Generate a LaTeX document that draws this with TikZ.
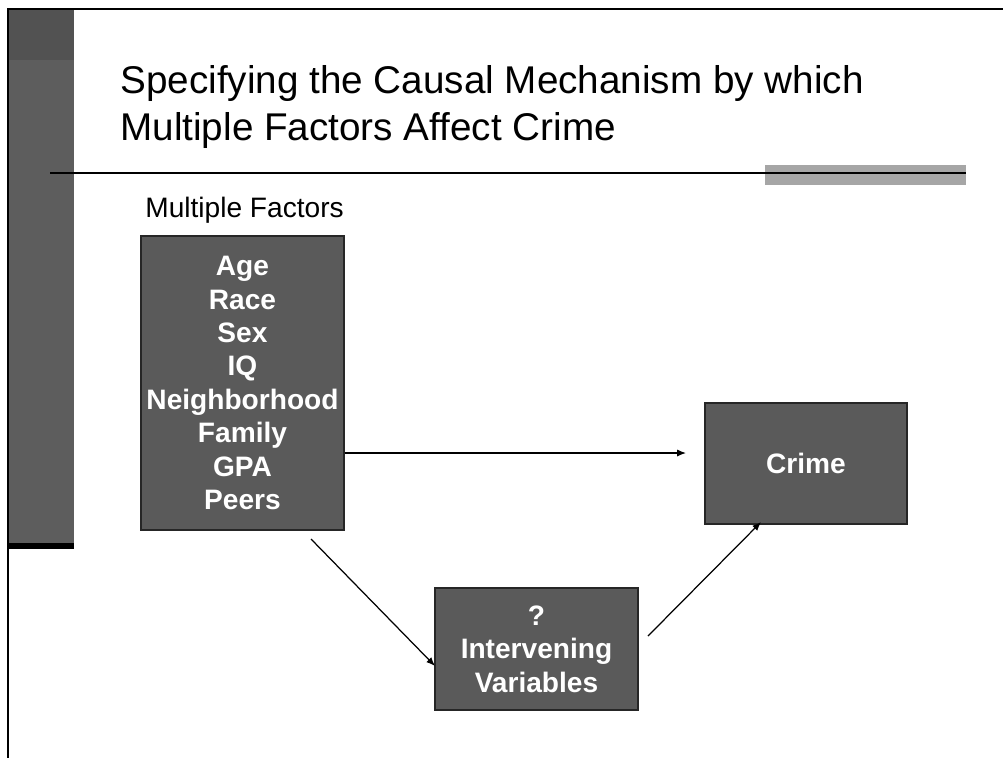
\documentclass[tikz,border=0pt]{standalone}
\usepackage{fontspec}
\setmainfont{Liberation Sans}
\usetikzlibrary{arrows.meta}
\definecolor{boxgray}{HTML}{5A5A5A}
\definecolor{bargray}{HTML}{5D5D5D}
\definecolor{bartop}{HTML}{525252}
\definecolor{rulegray}{HTML}{A6A6A6}
\begin{document}
\begin{tikzpicture}[
        x=0.02cm,
        y=-0.02cm,
        frame line/.style={black,line width=1.2pt},
        factor box/.style={draw=black!85,fill=boxgray,line width=0.8pt,text=white,align=center,inner sep=0pt,
            font=\fontsize{16}{19}\selectfont\bfseries},
        link arrow/.style={black,line width=0.7pt,-{Latex[length=5pt,width=4pt]}}
    ]
        \useasboundingbox (0,0) rectangle (1003,758);

        % slide frame and side bar
        \fill[bargray] (8,9) rectangle (74,545);
        \fill[bartop] (8,9) rectangle (74,60);
        \fill[black] (8,543) rectangle (74,549);
        \draw[frame line] (1003,9) -- (8,9) -- (8,758);
        \fill[rulegray] (765,165) rectangle (966,185);
        \draw[black,line width=1pt] (50,173) -- (966,173);

        \node[anchor=base west,align=left,inner sep=0pt,font=\fontsize{22}{26.7}\selectfont] (title) at (120,140)
            {Specifying the Causal Mechanism by which\\Multiple Factors Affect Crime};
        \node[anchor=base west,inner sep=0pt,font=\fontsize{16}{19}\selectfont] (heading) at (145,217) {Multiple Factors};

        \node[factor box,minimum width=4.06cm,minimum height=5.88cm] (factors) at (242.5,383)
            {Age\\Race\\Sex\\IQ\\Neighborhood\\Family\\GPA\\Peers};
        \node[factor box,minimum width=4.04cm,minimum height=2.42cm] (crime) at (806,463.5) {Crime};
        \node[factor box,minimum width=4.06cm,minimum height=2.44cm] (inter) at (536.5,649)
            {?\\Intervening\\Variables};

        \coordinate (direct end) at (686,453);
        \coordinate (path start) at (311,539);
        \coordinate (path mid) at (435,666);
        \coordinate (path exit) at (648,636);
        \coordinate (path end) at (761,522);

        \draw[link arrow] (factors.east |- direct end) -- (direct end);
        \draw[link arrow] (path start) -- (path mid);
        \draw[link arrow] (path exit) -- (path end);
    \end{tikzpicture}
\end{document}
